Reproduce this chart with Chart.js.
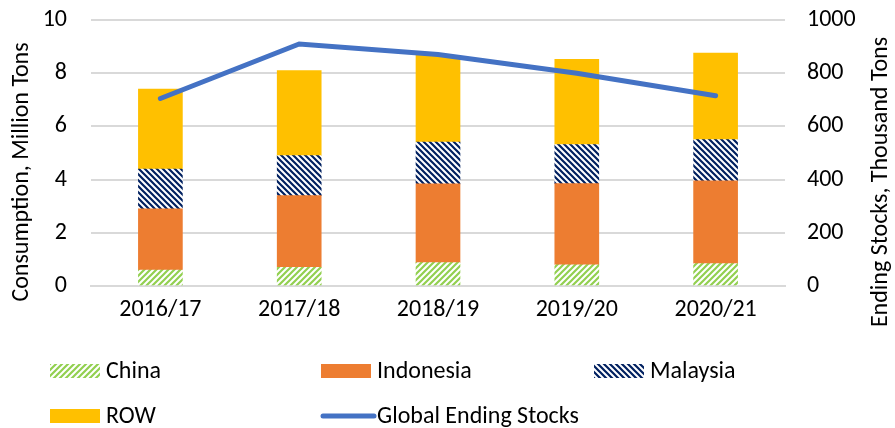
<!DOCTYPE html>
<html>
<head>
<meta charset="utf-8">
<script src="https://cdn.jsdelivr.net/npm/chart.js@4.4.1/dist/chart.umd.min.js"></script>
<style>
  html, body { margin: 0; padding: 0; background: #fff; }
  #wrap { width: 895px; height: 428px; }
</style>
</head>
<body>
<div id="wrap"><canvas id="chart" width="895" height="428"></canvas></div>
<script>
// --- data ---
const years = ['2016/17', '2017/18', '2018/19', '2019/20', '2020/21'];
const china = [0.6, 0.7, 0.88, 0.8, 0.84];
const indonesia = [2.3, 2.7, 2.96, 3.05, 3.11];
const malaysia = [1.5, 1.5, 1.57, 1.47, 1.55];
const row = [3.0, 3.2, 3.26, 3.2, 3.26];
const endingStocks = [705, 910, 870, 800, 715];
const leftTicks = [0, 2, 4, 6, 8, 10];
const rightTicks = [0, 200, 400, 600, 800, 1000];

const FONT = "Carlito, 'Liberation Sans Narrow', 'DejaVu Sans Condensed', sans-serif";
const FONT_SIZE = 24;
const TEXT = '#000';
const GRID = '#d9d9d9';

// hatch patterns like the Excel wide diagonal fills
function hatch(color, up) {
  const s = 6;
  const c = document.createElement('canvas');
  c.width = s; c.height = s;
  const g = c.getContext('2d');
  g.fillStyle = '#fff';
  g.fillRect(0, 0, s, s);
  g.strokeStyle = color;
  g.lineWidth = 2.2;
  g.beginPath();
  if (up) {
    g.moveTo(0, s); g.lineTo(s, 0);
    g.moveTo(-1, 1); g.lineTo(1, -1);
    g.moveTo(s - 1, s + 1); g.lineTo(s + 1, s - 1);
  } else {
    g.moveTo(0, 0); g.lineTo(s, s);
    g.moveTo(-1, s - 1); g.lineTo(1, s + 1);
    g.moveTo(s - 1, -1); g.lineTo(s + 1, 1);
  }
  g.stroke();
  return g.createPattern(c, 'repeat');
}

const ctx = document.getElementById('chart').getContext('2d');
const chinaFill = hatch('#92d050', true);
const malaysiaFill = hatch('#002060', false);

// legend + axis titles drawn by hand (Excel-style grid legend)
const extrasPlugin = {
  id: 'extras',
  afterDraw(chart) {
    const c = chart.ctx;
    c.save();
    c.font = `${FONT_SIZE}px ${FONT}`;
    c.fillStyle = TEXT;
    c.textBaseline = 'middle';

    // axis titles
    c.textAlign = 'center';
    c.save();
    c.translate(22, 172);
    c.rotate(-Math.PI / 2);
    c.fillText('Consumption, Million Tons', 0, 0);
    c.restore();
    c.save();
    c.translate(881, 182);
    c.rotate(-Math.PI / 2);
    c.fillText('Ending Stocks, Thousand Tons', 0, 0);
    c.restore();

    // legend
    const cols = [50, 321, 594];
    const rows = [371, 416];
    c.textAlign = 'left';
    chart.data.datasets.forEach((ds, i) => {
      const x = cols[i % 3];
      const y = rows[Math.floor(i / 3)];
      if (ds.type === 'line') {
        c.strokeStyle = ds.borderColor;
        c.lineWidth = 5;
        c.lineCap = 'round';
        c.beginPath();
        c.moveTo(x + 2, y);
        c.lineTo(x + 53, y);
        c.stroke();
      } else {
        c.fillStyle = ds.backgroundColor;
        c.fillRect(x, y - 7, 50, 14);
      }
      c.fillStyle = TEXT;
      c.fillText(ds.label, x + 56, y + 1);
    });
    c.restore();
  }
};

// fixed axis sizes; drop the extra top/bottom padding chart.js adds for tick padding
function fixWidth(w) {
  return (scale) => {
    scale.width = w;
    scale.paddingTop = 0;
    scale.paddingBottom = 0;
  };
}

const barCommon = { type: 'bar', stack: 'total', yAxisID: 'y', barThickness: 44, borderWidth: 0, order: 1 };

new Chart(ctx, {
  data: {
    labels: years,
    datasets: [
      { ...barCommon, label: 'China', data: china, backgroundColor: chinaFill },
      { ...barCommon, label: 'Indonesia', data: indonesia, backgroundColor: '#ed7d31' },
      { ...barCommon, label: 'Malaysia', data: malaysia, backgroundColor: malaysiaFill },
      { ...barCommon, label: 'ROW', data: row, backgroundColor: '#ffc000' },
      {
        type: 'line',
        label: 'Global Ending Stocks',
        data: endingStocks,
        yAxisID: 'y1',
        borderColor: '#4472c4',
        borderWidth: 5,
        borderCapStyle: 'round',
        pointRadius: 0,
        tension: 0,
        order: 0
      }
    ]
  },
  options: {
    responsive: false,
    animation: false,
    layout: { padding: { top: 20, left: 0, right: 0, bottom: 0 } },
    plugins: {
      legend: { display: false },
      tooltip: { enabled: false }
    },
    scales: {
      x: {
        stacked: true,
        grid: { display: false, drawTicks: false },
        border: { display: true, color: GRID, width: 2 },
        ticks: { color: TEXT, font: { family: FONT, size: FONT_SIZE }, padding: 10, maxRotation: 0 },
        afterFit: (scale) => { scale.height = 142; }
      },
      y: {
        stacked: true,
        position: 'left',
        min: 0,
        max: 10,
        afterBuildTicks: (scale) => { scale.ticks = leftTicks.map(v => ({ value: v })); },
        grid: { color: GRID, lineWidth: 2, drawTicks: false },
        border: { display: false },
        ticks: { color: TEXT, font: { family: FONT, size: FONT_SIZE }, padding: 24 },
        afterFit: fixWidth(91)
      },
      y1: {
        position: 'right',
        min: 0,
        max: 1000,
        afterBuildTicks: (scale) => { scale.ticks = rightTicks.map(v => ({ value: v })); },
        grid: { display: false, drawTicks: false },
        border: { display: false },
        ticks: { color: TEXT, font: { family: FONT, size: FONT_SIZE }, padding: 22, callback: (v) => String(v) },
        afterFit: fixWidth(110)
      }
    }
  },
  plugins: [extrasPlugin]
});
</script>
</body>
</html>
